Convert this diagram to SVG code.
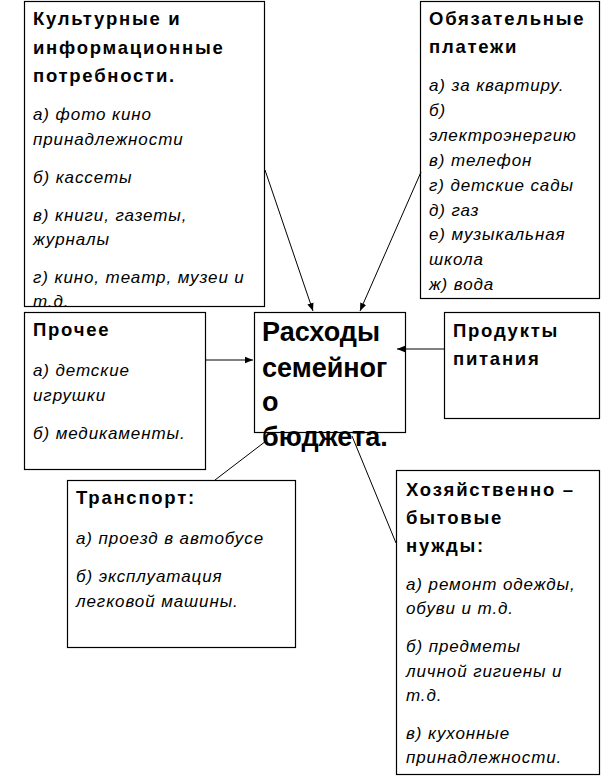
<svg xmlns="http://www.w3.org/2000/svg" width="613" height="776" viewBox="0 0 613 776">
<style>
.box{fill:#fff;stroke:#000;stroke-width:1.2}
.h{font-family:"Liberation Sans",Arial,sans-serif;font-weight:bold;font-size:18.5px;letter-spacing:1.75px;fill:#000}
.i{font-family:"Liberation Sans",Arial,sans-serif;font-style:italic;font-size:17px;letter-spacing:0.9px;fill:#000}
.c{font-family:"Liberation Sans",Arial,sans-serif;font-weight:bold;font-size:27px;fill:#000}
.ln{stroke:#000;stroke-width:1;fill:none}
</style>
<defs>
<marker id="ah" viewBox="0 0 10 10" refX="10" refY="5" markerWidth="8" markerHeight="8" markerUnits="userSpaceOnUse" orient="auto">
<path d="M0,1 L10,5 L0,9 z" fill="#000"/>
</marker>
</defs>
<g id="culture">
<rect class="box" x="24.5" y="1.5" width="240" height="305"/>
<text class="h" x="33" y="25">Культурные и</text>
<text class="h" x="33" y="54">информационные</text>
<text class="h" x="33" y="82">потребности.</text>
<text class="i" x="33" y="120">а) фото кино</text>
<text class="i" x="33" y="145">принадлежности</text>
<text class="i" x="33" y="183">б) кассеты</text>
<text class="i" x="33" y="221">в) книги, газеты,</text>
<text class="i" x="33" y="245">журналы</text>
<text class="i" x="33" y="283">г) кино, театр, музеи и</text>
<text class="i" x="33" y="307">т.д.</text>
</g>
<g id="payments">
<rect class="box" x="420.5" y="1.5" width="179" height="297"/>
<text class="h" x="429" y="25">Обязательные</text>
<text class="h" x="429" y="53">платежи</text>
<text class="i" x="429" y="91">а) за квартиру.</text>
<text class="i" x="429" y="116">б)</text>
<text class="i" x="429" y="141">электроэнергию</text>
<text class="i" x="429" y="166">в) телефон</text>
<text class="i" x="429" y="191">г) детские сады</text>
<text class="i" x="429" y="216">д) газ</text>
<text class="i" x="429" y="240">е) музыкальная</text>
<text class="i" x="429" y="265">школа</text>
<text class="i" x="429" y="290">ж) вода</text>
</g>
<g id="other">
<rect class="box" x="24.5" y="312.5" width="181" height="157"/>
<text class="h" x="33" y="336">Прочее</text>
<text class="i" x="33" y="376">а) детские</text>
<text class="i" x="33" y="401">игрушки</text>
<text class="i" x="33" y="439">б) медикаменты.</text>
</g>
<g id="center">
<rect class="box" x="254.5" y="312.5" width="151" height="120"/>
<text class="c" x="262" y="341">Расходы</text>
<text class="c" x="262" y="377">семейног</text>
<text class="c" x="262" y="411">о</text>
<text class="c" x="262" y="446">бюджета.</text>
</g>
<g id="food">
<rect class="box" x="444.5" y="312.5" width="155" height="106"/>
<text class="h" x="453" y="337">Продукты</text>
<text class="h" x="453" y="365">питания</text>
</g>
<g id="transport">
<rect class="box" x="67.5" y="480.5" width="228" height="167"/>
<text class="h" x="76" y="504">Транспорт:</text>
<text class="i" x="76" y="544">а) проезд в автобусе</text>
<text class="i" x="76" y="582">б) эксплуатация</text>
<text class="i" x="76" y="607">легковой машины.</text>
</g>
<g id="household">
<rect class="box" x="396.5" y="470.5" width="203" height="304"/>
<text class="h" x="406" y="496">Хозяйственно –</text>
<text class="h" x="406" y="524">бытовые</text>
<text class="h" x="406" y="552">нужды:</text>
<text class="i" x="406" y="590">а) ремонт одежды,</text>
<text class="i" x="406" y="614">обуви и т.д.</text>
<text class="i" x="406" y="652">б) предметы</text>
<text class="i" x="406" y="677">личной гигиены и</text>
<text class="i" x="406" y="701">т.д.</text>
<text class="i" x="406" y="739">в) кухонные</text>
<text class="i" x="406" y="763">принадлежности.</text>
</g>
<g id="connectors">
<line class="ln" x1="265" y1="170" x2="313" y2="311" marker-end="url(#ah)"/>
<line class="ln" x1="421" y1="172" x2="360" y2="311" marker-end="url(#ah)"/>
<line class="ln" x1="206" y1="360" x2="253" y2="360" marker-end="url(#ah)"/>
<line class="ln" x1="444" y1="349" x2="397" y2="349" marker-end="url(#ah)"/>
<line class="ln" x1="266" y1="441" x2="215" y2="480"/>
<line class="ln" x1="352" y1="436" x2="396" y2="543"/>
</g>
</svg>
